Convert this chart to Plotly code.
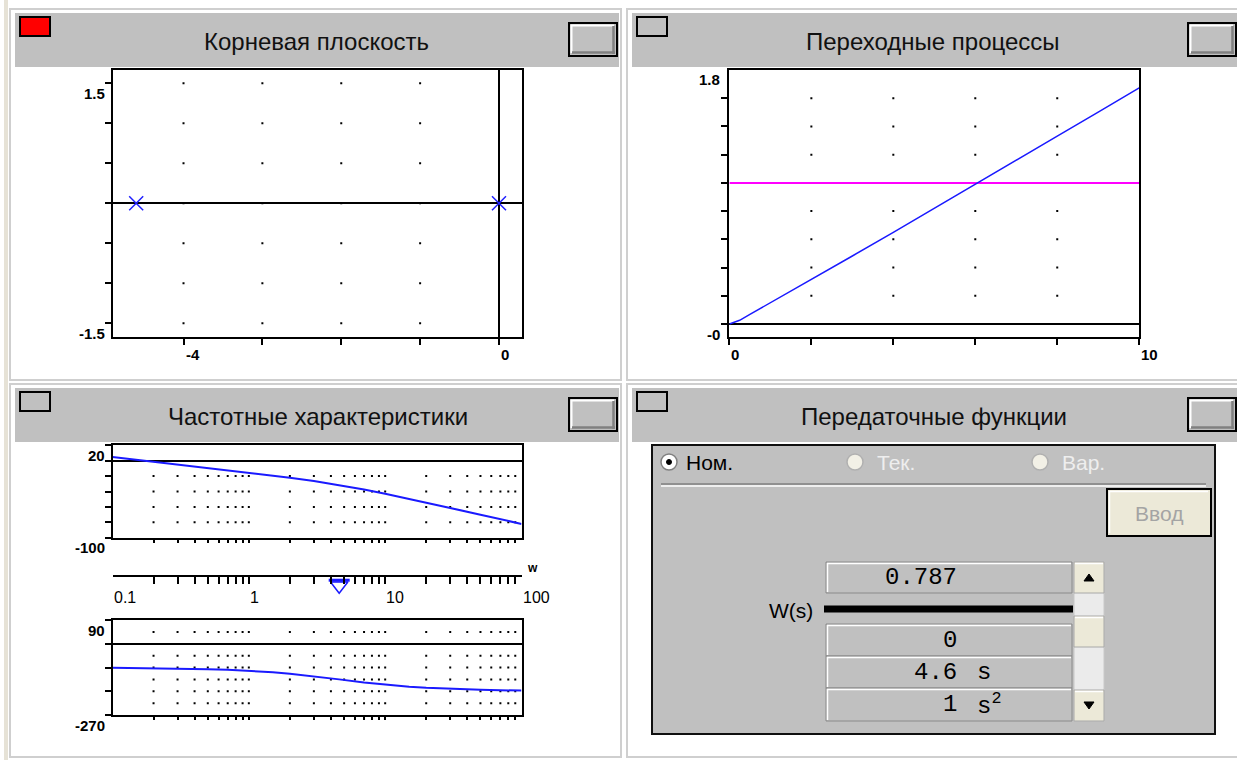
import math
import plotly.graph_objects as go

W, H = 1237, 760

# ---------------- data ----------------
panel_titles = ["Корневая плоскость", "Переходные процессы",
                "Частотные характеристики", "Передаточные функции"]

# root plane
poles_re = [-4.6, 0.0]
poles_im = [0.0, 0.0]
root_grid_x = [-4, -3, -2, -1]
root_grid_y = [-1.5, -1.0, -0.5, 0.0, 0.5, 1.0, 1.5]
root_xticks = [-4, -3, -2, -1, 0]
root_yticks = [-1.5, -1.0, -0.5, 0.0, 0.5, 1.0, 1.5]
root_xlabels = [(-4, "-4"), (0, "0")]
root_ylabels = [(1.5, "1.5"), (-1.5, "-1.5")]

# transient response
t_vals = [0, 0.25, 0.5, 1, 2, 3, 4, 5, 6, 7, 8, 9, 10]
y_vals = [0, 0.026, 0.068, 0.150, 0.315, 0.482, 0.649, 0.818, 0.989,
          1.160, 1.331, 1.502, 1.673]
ref_t = [0, 10]
ref_y = [1.0, 1.0]
step_grid_x = [2, 4, 6, 8]
step_grid_y = [0.2, 0.4, 0.6, 0.8, 1.2, 1.4, 1.6]
step_xticks = [0, 2, 4, 6, 8, 10]
step_yticks = [0, 0.2, 0.4, 0.6, 0.8, 1.0, 1.2, 1.4, 1.6]
step_xlabels = [(0, "0"), (10, "10")]
step_ylabels = [(1.8, "1.8"), (0, "-0")]

# frequency response
w_vals = [0.1, 0.15, 0.2, 0.3, 0.5, 0.7, 1, 1.5, 2, 3, 4.6, 7, 10, 15, 20,
          30, 50, 70, 100]
mag_db = [4.7, 1.1, -1.4, -4.9, -9.4, -12.3, -15.5, -19.3, -22.1, -26.4,
          -31.6, -37.4, -42.9, -49.5, -54.3, -61.3, -70.1, -75.9, -82.1]
phase_deg = [-91.2, -91.9, -92.5, -93.7, -96.2, -98.7, -102.3, -108.1,
             -113.5, -123.1, -135.0, -146.7, -155.3, -163.0, -167.0,
             -171.3, -174.7, -176.2, -177.4]
bode_grid_w = [0.2, 0.3, 0.4, 0.5, 0.6, 0.7, 0.8, 0.9, 1,
               2, 3, 4, 5, 6, 7, 8, 9, 10,
               20, 30, 40, 50, 60, 70, 80, 90]
freq_ticks = [0.1] + bode_grid_w + [100]
freq_labels = [(0.1, "0.1"), (1, "1"), (10, "10"), (100, "100")]
mag_grid = [-20, -40, -60, -80]
mag_ticks = [-100, -80, -60, -40, -20, 0, 20]
mag_labels = [(20, "20"), (-100, "-100")]
phase_grid = [45, -45, -90, -135, -180, -225]
phase_ticks = [-270, -180, -90, 0, 90]
phase_labels = [(90, "90"), (-270, "-270")]
w_marker = [4.6]

# transfer function
num_coef = ["0.787"]
den_coef = ["0", "4.6", "1"]
den_pow = ["", "s", "s<sup>2</sup>"]
radio_labels = ["Ном.", "Тек.", "Вар."]

# ---------------- helpers ----------------
shapes = []
annots = []


def PX(x):
    return x / W


def PY(y):
    return 1 - y / H


def prect(x0, y0, x1, y1, fill=None, lc=None, lw=0, layer="above"):
    shapes.append(dict(type="rect", xref="paper", yref="paper",
                       x0=PX(x0), x1=PX(x1), y0=PY(y1), y1=PY(y0),
                       fillcolor=fill or "rgba(0,0,0,0)",
                       line=dict(color=lc or "rgba(0,0,0,0)", width=lw),
                       layer=layer))


def pline(x0, y0, x1, y1, color, lw, layer="above"):
    shapes.append(dict(type="line", xref="paper", yref="paper",
                       x0=PX(x0), x1=PX(x1), y0=PY(y0), y1=PY(y1),
                       line=dict(color=color, width=lw), layer=layer))


def pcircle(cx, cy, r, fill, lc, lw):
    shapes.append(dict(type="circle", xref="paper", yref="paper",
                       x0=PX(cx - r), x1=PX(cx + r), y0=PY(cy + r), y1=PY(cy - r),
                       fillcolor=fill, line=dict(color=lc, width=lw), layer="above"))


def ptri(pts, fill):
    path = "M " + " L ".join(f"{PX(x):.5f},{PY(y):.5f}" for x, y in pts) + " Z"
    shapes.append(dict(type="path", xref="paper", yref="paper", path=path,
                       fillcolor=fill, line=dict(color=fill, width=1), layer="above"))


def text(x, y, s, size=14, color="black", family="Liberation Sans, Arial",
         xanchor="center", yanchor="middle", xref="paper", yref="paper",
         bold=False, xshift=0, yshift=0):
    if bold:
        s = "<b>" + s + "</b>"
    annots.append(dict(x=x, y=y, xref=xref, yref=yref, text=s, showarrow=False,
                       xanchor=xanchor, yanchor=yanchor, xshift=xshift, yshift=yshift,
                       font=dict(size=size, color=color, family=family)))


def button3d(x0, y0, x1, y1):
    prect(x0, y0, x1, y1, fill="#c0c0c0", lc="black", lw=2)
    pline(x0 + 2, y0 + 2.5, x1 - 3, y0 + 2.5, "white", 2)
    pline(x0 + 2.5, y0 + 2, x0 + 2.5, y1 - 3, "white", 2)
    pline(x0 + 3, y1 - 3.5, x1 - 2, y1 - 3.5, "#808080", 2.5)
    pline(x1 - 3.5, y0 + 3, x1 - 3.5, y1 - 2, "#808080", 2.5)


# ---------------- panels ----------------
prect(4, 0, 8, 760, fill="#e6e2d6", layer="below")
panels = [(10, 9, 621, 380), (627, 9, 1240, 380), (10, 384, 621, 757), (627, 384, 1240, 757)]
title_centers = [316, 933, 318, 934]
for i, (x0, y0, x1, y1) in enumerate(panels):
    prect(x0, y0, x1, y1, fill="white", lc="#cfcfcf", lw=2, layer="below")
    prect(x0 + 5, y0 + 4, x1 - 2, y0 + 58, fill="#c0c0c0", layer="below")
    prect(x0 + 10, y0 + 8, x0 + 40, y0 + 27,
          fill="#ff0000" if i == 0 else "#c0c0c0", lc="black", lw=2)
    button3d(x1 - 52, y0 + 14, x1 - 4, y0 + 47)
    text(PX(title_centers[i]), PY(y0 + 32), panel_titles[i], size=24, color="#111111")

# ---------------- transfer function widget ----------------
prect(652, 445, 1215, 734, fill="#c0c0c0", lc="#101010", lw=2)
radio_x = [669, 855, 1040]
for k, (cx, lab) in enumerate(zip(radio_x, radio_labels)):
    if k == 0:
        pcircle(cx, 462, 8, "white", "#808080", 1.5)
        pcircle(cx, 462, 2.5, "black", "black", 1)
        text(PX(cx + 15), PY(462), lab, size=21, xanchor="left")
    else:
        pcircle(cx, 462, 8, "#f2f0e6", "#b0b0b0", 1.5)
        text(PX(cx + 20), PY(462), lab, size=21, color="#eeeeee", xanchor="left")
pline(661, 484, 1206, 484, "#808080", 1.5)
pline(661, 486, 1206, 486, "white", 1.5)

prect(1107, 489, 1211, 536, fill="#ece9d8", lc="black", lw=2)
pline(1109, 491.5, 1208, 491.5, "white", 1.5)
pline(1109.5, 491, 1109.5, 533, "white", 1.5)
text(PX(1159), PY(513), "Ввод", size=21, color="#a4a4a4")

fields = [(562, 593), (624, 656), (656, 688), (688, 721)]
for (fy0, fy1) in fields:
    prect(826, fy0, 1072, fy1, fill="#c0c0c0", lc="#8a8a8a", lw=1)
    pline(827, fy0 + 1.5, 1071, fy0 + 1.5, "white", 1.5)
    pline(827.5, fy0 + 1, 827.5, fy1 - 1, "white", 1.5)

mono = "Liberation Mono, Courier New, monospace"
fy0, fy1 = fields[0]
text(PX(959), PY((fy0 + fy1) / 2), num_coef[0], size=24, family=mono, xanchor="right")
for (fy0, fy1), c, p in zip(fields[1:], den_coef, den_pow):
    text(PX(959), PY((fy0 + fy1) / 2), c, size=24, family=mono, xanchor="right")
    if p:
        text(PX(975), PY((fy0 + fy1) / 2), p, size=24, family=mono, xanchor="left")

pline(824, 609, 1073, 609, "black", 7)
text(PX(815), PY(610), "W(s)", size=21, xanchor="right")

prect(1074, 562, 1104, 721, fill="#ebebeb", lc="#c8c8c8", lw=1)
for (sy0, sy1) in [(562, 593), (616, 647), (690, 721)]:
    prect(1074, sy0, 1104, sy1, fill="#ece9d8", lc="#a8a8a8", lw=1)
    pline(1075, sy0 + 1.5, 1103, sy0 + 1.5, "white", 1.5)
ptri([(1084, 581), (1094, 581), (1089, 574)], "black")
ptri([(1084, 702), (1094, 702), (1089, 709)], "black")

# ---------------- traces ----------------
fig = go.Figure()

gx = [x for x in root_grid_x for _ in root_grid_y]
gy = [y for _ in root_grid_x for y in root_grid_y]
fig.add_trace(go.Scatter(x=gx, y=gy, mode="markers", xaxis="x", yaxis="y",
                         marker=dict(symbol="square", size=2, color="black")))
fig.add_trace(go.Scatter(x=poles_re, y=poles_im, mode="markers", xaxis="x", yaxis="y",
                         cliponaxis=False,
                         marker=dict(symbol="x-thin", size=14,
                                     line=dict(width=1.5, color="#2020ff"))))

sx = [x for x in step_grid_x for _ in step_grid_y]
sy = [y for _ in step_grid_x for y in step_grid_y]
fig.add_trace(go.Scatter(x=sx, y=sy, mode="markers", xaxis="x2", yaxis="y2",
                         marker=dict(symbol="square", size=2, color="black")))
fig.add_trace(go.Scatter(x=ref_t, y=ref_y, mode="lines", xaxis="x2", yaxis="y2",
                         line=dict(color="#ff00ff", width=2)))
fig.add_trace(go.Scatter(x=t_vals, y=y_vals, mode="lines", xaxis="x2", yaxis="y2",
                         line=dict(color="#1a1aff", width=1.5)))

mx = [x for x in bode_grid_w for _ in mag_grid]
my = [y for _ in bode_grid_w for y in mag_grid]
fig.add_trace(go.Scatter(x=mx, y=my, mode="markers", xaxis="x3", yaxis="y3",
                         marker=dict(symbol="square", size=2, color="black")))
fig.add_trace(go.Scatter(x=w_vals, y=mag_db, mode="lines", xaxis="x3", yaxis="y3",
                         line=dict(color="#1a1aff", width=2)))

# frequency cursor marker (axis at top of y4 domain, y4 range [0,1] over 577..600 px)
fig.add_trace(go.Scatter(x=w_marker, y=[0.62], mode="markers", xaxis="x4", yaxis="y4",
                         cliponaxis=False,
                         marker=dict(symbol="triangle-down-open", size=15, color="#1a1aff",
                                     line=dict(width=1.5, color="#1a1aff"))))
fig.add_trace(go.Scatter(x=w_marker, y=[0.86], mode="markers", xaxis="x4", yaxis="y4",
                         cliponaxis=False,
                         marker=dict(symbol="line-ew", size=15,
                                     line=dict(width=3, color="#1a1aff"))))

px_ = [x for x in bode_grid_w for _ in phase_grid]
py_ = [y for _ in bode_grid_w for y in phase_grid]
fig.add_trace(go.Scatter(x=px_, y=py_, mode="markers", xaxis="x5", yaxis="y5",
                         marker=dict(symbol="square", size=2, color="black")))
fig.add_trace(go.Scatter(x=w_vals, y=phase_deg, mode="lines", xaxis="x5", yaxis="y5",
                         line=dict(color="#1a1aff", width=2)))

# ---------------- axes ----------------
def box_axis(dom, rng, tickvals, ticklen=6, anchor=None, log=False, zeroline=False):
    d = dict(domain=dom, range=rng, tickvals=tickvals, ticks="outside",
             ticklen=ticklen, tickwidth=2, tickcolor="black", showticklabels=False,
             showline=True, linecolor="black", linewidth=2, mirror=True,
             showgrid=False, zeroline=zeroline, zerolinecolor="black",
             zerolinewidth=2, fixedrange=True)
    if anchor:
        d["anchor"] = anchor
    if log:
        d["type"] = "log"
    return d


def xdom(a, b):
    return [PX(a), PX(b)]


def ydom(top, bottom):
    return [PY(bottom), PY(top)]


bx0, bx1 = 112.5, 521.5
layout = dict(
    width=W, height=H, margin=dict(l=0, r=0, t=0, b=0),
    paper_bgcolor="white", plot_bgcolor="rgba(0,0,0,0)",
    showlegend=False, hovermode=False,
    xaxis=box_axis(xdom(113.4, 521.7), [-4.889, 0.288], root_xticks, anchor="y", zeroline=True),
    yaxis=box_axis(ydom(70, 336.5), [-1.665, 1.665], root_yticks, anchor="x", zeroline=True),
    xaxis2=box_axis(xdom(729.4, 1139.2), [0, 10], step_xticks, anchor="y2"),
    yaxis2=box_axis(ydom(70, 336.5), [-0.0886, 1.8], step_yticks, anchor="x2", zeroline=True),
    xaxis3=box_axis(xdom(bx0, bx1), [-1, 2], bode_grid_w, ticklen=3, anchor="y3", log=True),
    yaxis3=box_axis(ydom(445.3, 537.7), [-100, 20], mag_ticks, anchor="x3", zeroline=True),
    xaxis5=box_axis(xdom(bx0, bx1), [-1, 2], bode_grid_w, ticklen=3, anchor="y5", log=True),
    yaxis5=box_axis(ydom(620, 715), [-270, 90], phase_ticks, anchor="x5", zeroline=True),
)
x4 = box_axis(xdom(bx0, bx1), [-1, 2], freq_ticks, ticklen=7, anchor="y4", log=True)
x4["mirror"] = False
x4["side"] = "top"
x4["ticks"] = "inside"
layout["xaxis4"] = x4
layout["yaxis4"] = dict(domain=ydom(577, 600), range=[0, 1], visible=False,
                        anchor="x4", fixedrange=True)

# ---------------- tick labels ----------------
lab_font = 15
for v, s in root_xlabels:
    text(v, PY(355), s, size=lab_font, bold=True, xref="x", xanchor="left")
for v, s in root_ylabels:
    text(PX(107), v, s, size=lab_font, bold=True, yref="y", xanchor="right", yshift=-10)
for v, s in step_xlabels:
    text(v, PY(354), s, size=lab_font, bold=True, xref="x2", xanchor="left")
for v, s in step_ylabels:
    text(PX(722), v, s, size=lab_font, bold=True, yref="y2", xanchor="right", yshift=-10)
for v, s in mag_labels:
    text(PX(107), v, s, size=15, bold=True, yref="y3", xanchor="right", yshift=-10)
for v, s in phase_labels:
    text(PX(107), v, s, size=15, bold=True, yref="y5", xanchor="right", yshift=-10)
for v, s in freq_labels:
    text(math.log10(v), PY(597), s, size=16, xref="x4", xanchor="left", xshift=-1)
text(PX(532), PY(568), "w", size=12, bold=True)

layout["shapes"] = shapes
layout["annotations"] = annots
fig.update_layout(**layout)
fig.write_html("out.html", config={"displayModeBar": False, "staticPlot": True},
               post_script="document.body.style.margin='0';"
                           "document.body.style.overflow='hidden';")
